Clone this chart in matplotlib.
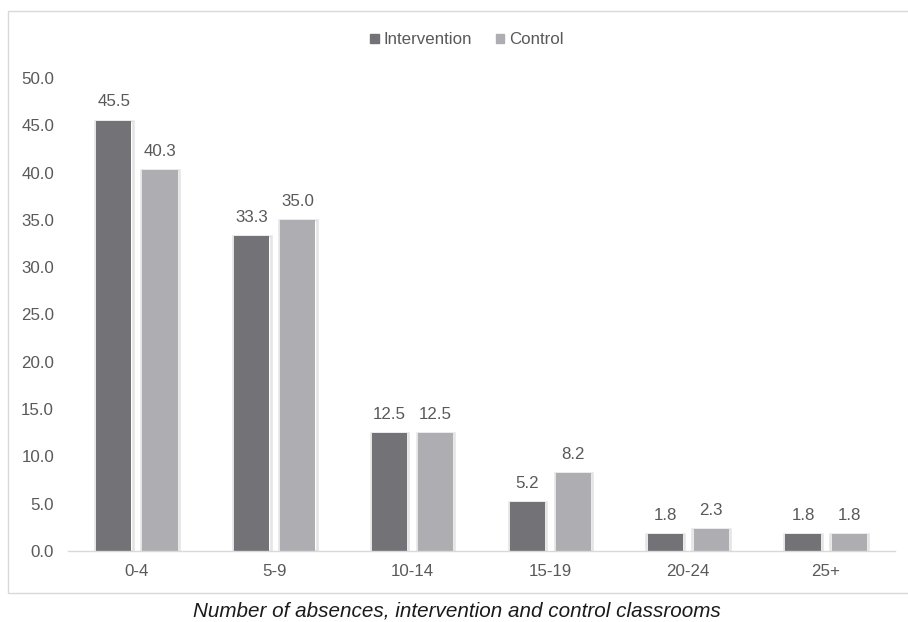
import matplotlib
matplotlib.use("Agg")
import matplotlib.pyplot as plt
from matplotlib.patches import Rectangle
import numpy as np

categories = ["0-4", "5-9", "10-14", "15-19", "20-24", "25+"]
intervention = [45.5, 33.3, 12.5, 5.2, 1.8, 1.8]
control = [40.3, 35.0, 12.5, 8.2, 2.3, 1.8]
series_names = ["Intervention", "Control"]
yticks = [0, 5, 10, 15, 20, 25, 30, 35, 40, 45, 50]

plt.rcParams["font.family"] = ["Liberation Sans", "DejaVu Sans"]
TXT = "#595959"
C_INT = "#737377"
C_CTL = "#aeaeb2"
FS = 12.2

fig = plt.figure(figsize=(9.08, 6.22), dpi=100)
W, H = 908, 622
ax = fig.add_axes([68 / W, 1 - 551 / H, (895 - 68) / W, (551 - 78) / H])

x = np.arange(len(categories))
bw = 0.255
off = 0.167
for xs, vals, col in ((x - off, intervention, C_INT), (x + off, control, C_CTL)):
    # soft halo around each bar
    ax.bar(xs, vals, width=bw + 0.018, color="none", edgecolor="#e4e4e4", linewidth=1.8, zorder=1)
    ax.bar(xs, vals, width=bw, color=col, edgecolor="none", zorder=2)
    for xi, v in zip(xs, vals):
        ax.annotate(f"{v:.1f}", (xi, v), xytext=(0, 8), textcoords="offset points",
                    ha="center", va="bottom", fontsize=FS, color=TXT)

ax.set_xlim(-0.5, len(categories) - 0.5)
ax.set_ylim(0, 50)
ax.set_yticks(yticks)
ax.set_yticklabels([f"{t:.1f}" for t in yticks])
ax.set_xticks(x)
ax.set_xticklabels(categories)
ax.tick_params(axis="both", length=0, labelsize=FS, labelcolor=TXT)
ax.tick_params(axis="y", pad=10)
ax.tick_params(axis="x", pad=9)
for s in ("top", "right", "left"):
    ax.spines[s].set_visible(False)
ax.spines["bottom"].set_color("#d9d9d9")
ax.spines["bottom"].set_linewidth(1.0)

# legend
handles = [Rectangle((0, 0), 1, 1, color=C_INT), Rectangle((0, 0), 1, 1, color=C_CTL)]
fig.legend(handles, series_names, loc="center", bbox_to_anchor=(467 / W, 1 - 40 / H),
           ncol=2, frameon=False, fontsize=FS, labelcolor=TXT, handlelength=0.5,
           handleheight=0.5, handletextpad=0.3, columnspacing=1.4)

# outer frame
fig.patches.append(Rectangle((8 / W, 1 - 593 / H), (912 - 8) / W, (593 - 11) / H,
                             transform=fig.transFigure, fill=False, edgecolor="#d9d9d9",
                             linewidth=1.0))

fig.text(457 / W, 1 - 611 / H, "Number of absences, intervention and control classrooms",
         ha="center", va="center", fontsize=14.9, style="italic", color="#1a1a1a")

fig.savefig("out.png", dpi=100)
